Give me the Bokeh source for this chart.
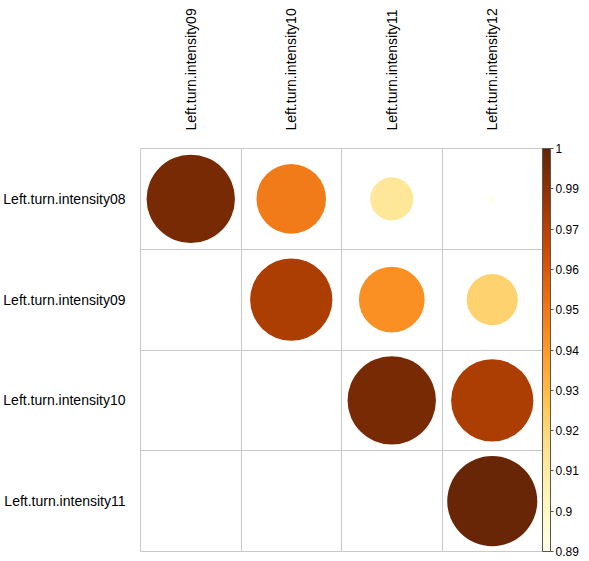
import numpy as np
from bokeh.plotting import figure
from bokeh.models import (ColumnDataSource, LinearColorMapper, ColorBar, FixedTicker)
from bokeh.palettes import YlOrBr9
from bokeh.embed import file_html
from bokeh.resources import INLINE

# ---- data ----
row_labels = ["Left.turn.intensity08", "Left.turn.intensity09",
              "Left.turn.intensity10", "Left.turn.intensity11"]
col_labels = ["Left.turn.intensity09", "Left.turn.intensity10",
              "Left.turn.intensity11", "Left.turn.intensity12"]
# upper-triangle cells: (row index, col index, value)
cell_rows = [0, 0, 0, 0, 1, 1, 1, 2, 2, 3]
cell_cols = [0, 1, 2, 3, 1, 2, 3, 2, 3, 3]
cell_vals = [0.995, 0.955, 0.915, 0.8905, 0.981, 0.948, 0.925, 0.995, 0.981, 0.999]
col_lim = [0.89, 1.0]
cbar_tick_labels = ["0.89", "0.9", "0.91", "0.92", "0.93", "0.94",
                    "0.95", "0.96", "0.97", "0.99", "1"]

# ---- palette (light -> dark) ----
base = list(reversed(YlOrBr9))
def hex2rgb(h):
    return tuple(int(h[i:i + 2], 16) for i in (1, 3, 5))
rgb = np.array([hex2rgb(c) for c in base], dtype=float)
n = 200
pos = np.linspace(0, len(base) - 1, n)
palette = []
for t in pos:
    i = int(np.floor(t)); f = t - i
    j = min(i + 1, len(base) - 1)
    c = rgb[i] * (1 - f) + rgb[j] * f
    palette.append("#%02x%02x%02x" % tuple(int(round(v)) for v in c))

mapper = LinearColorMapper(palette=palette, low=col_lim[0], high=col_lim[1])

nr = len(row_labels)
x = [c + 0.5 for c in cell_cols]
y = [nr - r - 0.5 for r in cell_rows]
scaled = [(v - col_lim[0]) / (col_lim[1] - col_lim[0]) for v in cell_vals]
rad = [0.45 * np.sqrt(max(s, 0)) for s in scaled]
src = ColumnDataSource(dict(x=x, y=y, r=rad, v=cell_vals))

FONT = "Liberation Sans"

p = figure(frame_width=402, frame_height=403, x_range=(0, 4), y_range=(0, 4),
           output_backend="svg", toolbar_location=None,
           x_axis_location="above", min_border_left=139, min_border_top=148,
           min_border_bottom=10, min_border_right=0)
p.background_fill_color = "white"
p.border_fill_color = "white"
p.outline_line_color = "#c8c8c8"
p.outline_line_width = 1

p.circle(x="x", y="y", radius="r", source=src, radius_dimension="x",
         fill_color={"field": "v", "transform": mapper}, line_color=None)

for ax, labels in ((p.xaxis[0], col_labels), (p.yaxis[0], list(reversed(row_labels)))):
    ax.ticker = FixedTicker(ticks=[i + 0.5 for i in range(4)])
    ax.major_label_overrides = {i + 0.5: lab for i, lab in enumerate(labels)}
    ax.major_tick_line_color = None
    ax.minor_tick_line_color = None
    ax.axis_line_color = None
    ax.major_label_text_font = FONT
    ax.major_label_text_font_size = "14px"
    ax.major_label_text_color = "black"
p.xaxis.major_label_orientation = "vertical"
p.xaxis.major_label_standoff = 12
p.yaxis.major_label_standoff = 9

p.xgrid.ticker = FixedTicker(ticks=[1, 2, 3])
p.ygrid.ticker = FixedTicker(ticks=[1, 2, 3])
p.grid.grid_line_color = "#c8c8c8"
p.grid.grid_line_width = 1

step = (col_lim[1] - col_lim[0]) / (len(cbar_tick_labels) - 1)
cticks = [col_lim[0] + i * step for i in range(len(cbar_tick_labels))]
cb = ColorBar(color_mapper=mapper, width=8, margin=7, padding=0,
              ticker=FixedTicker(ticks=cticks),
              major_label_overrides={t: l for t, l in zip(cticks, cbar_tick_labels)},
              major_label_text_font=FONT, major_label_text_font_size="12px",
              major_label_text_color="black",
              major_tick_line_color="#555555", major_tick_in=0, major_tick_out=3,
              bar_line_color="#555555", bar_line_width=1,
              label_standoff=2, border_line_color=None,
              background_fill_color=None)
p.add_layout(cb, "right")

open("out.html", "w").write(file_html(p, INLINE))
